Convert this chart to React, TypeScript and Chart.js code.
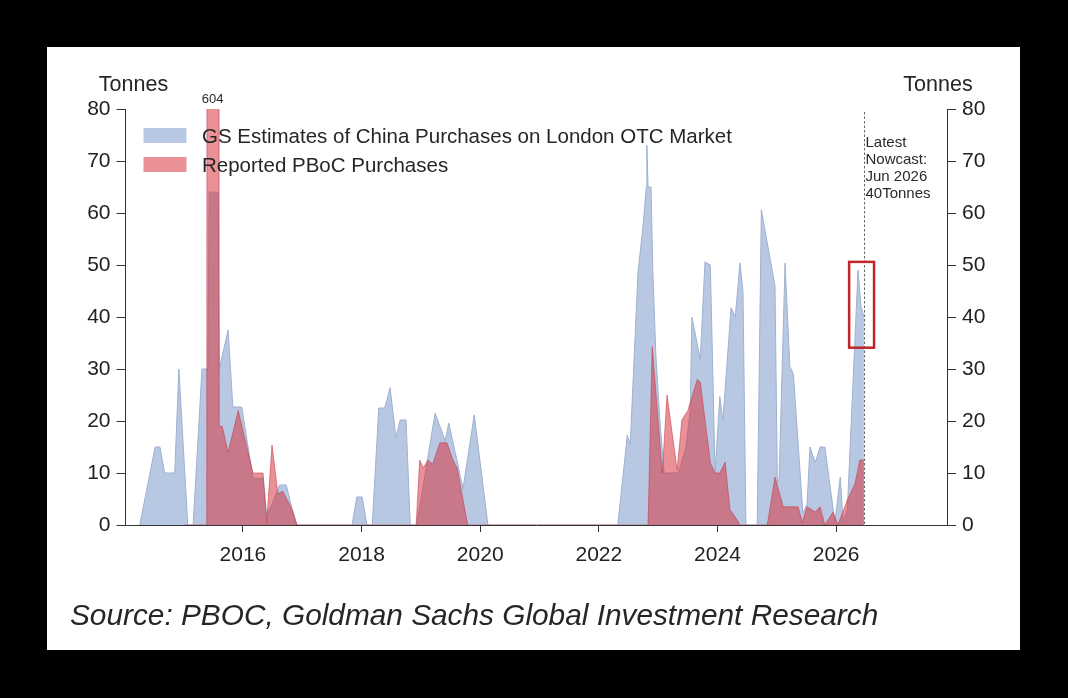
import React, { useEffect, useRef } from 'react';
import { Chart, registerables } from 'chart.js';

Chart.register(...registerables);

const FONT = '"Liberation Sans", Arial, Helvetica, sans-serif';

// GS estimates of China purchases on London OTC market (tonnes), vertices by decimal year
const gsDates = [
  2014.26, 2014.52, 2014.6, 2014.68, 2014.85, 2014.92, 2015.07, 2015.16, 2015.31, 2015.41,
  2015.43, 2015.58, 2015.6, 2015.75, 2015.83, 2015.98, 2016.17, 2016.34, 2016.4, 2016.49,
  2016.62, 2016.73, 2016.83, 2016.91, 2017.84, 2017.92, 2018.01, 2018.09, 2018.18, 2018.29,
  2018.39, 2018.48, 2018.58, 2018.65, 2018.75, 2018.82, 2018.93, 2019.24, 2019.41, 2019.47,
  2019.61, 2019.71, 2019.9, 2020.13, 2022.32, 2022.48, 2022.53, 2022.66, 2022.75, 2022.8,
  2022.81, 2022.83, 2022.88, 2022.91, 2022.96, 2023.03, 2023.1, 2023.34, 2023.47, 2023.54,
  2023.57, 2023.71, 2023.79, 2023.88, 2023.96, 2024.04, 2024.09, 2024.23, 2024.3, 2024.38,
  2024.43, 2024.48, 2024.67, 2024.74, 2024.97, 2025.01, 2025.04, 2025.14, 2025.22, 2025.28,
  2025.44, 2025.51, 2025.56, 2025.65, 2025.73, 2025.81, 2025.93, 2025.98, 2026.07, 2026.12,
  2026.19, 2026.37, 2026.42, 2026.47,
];
const gsValues = [
  0, 15, 15, 10, 10, 30, 0, 0, 30, 30,
  64, 64, 30, 37.5, 22.7, 22.7, 9, 9, 2, 4,
  7.7, 7.7, 3, 0, 0, 5.4, 5.4, 0, 0, 22.5,
  22.5, 26.4, 16.8, 20.2, 20.2, 0, 0, 21.5, 16.2, 19.6,
  12.3, 7, 21.2, 0, 0, 17.3, 15.5, 48.5, 58, 65,
  73, 65, 65, 49, 33, 20, 10, 10, 15, 22,
  40, 31.8, 50.6, 50, 10, 24.7, 20, 41.8, 40, 50.4,
  45, 0, 0, 60.6, 46, 8, 9, 50.4, 30.5, 29,
  2.3, 4, 15, 12, 15, 15, 4.8, 0.5, 9.2, 0.5,
  3, 49, 42, 40,
];

// Reported PBoC purchases (tonnes)
const pbocDates = [
  2015.0, 2015.39, 2015.41, 2015.58, 2015.6, 2015.65, 2015.75, 2015.92, 2016.17, 2016.34,
  2016.4, 2016.49, 2016.59, 2016.67, 2016.83, 2016.91, 2018.92, 2018.98, 2019.04, 2019.12,
  2019.2, 2019.32, 2019.44, 2019.54, 2019.61, 2019.79, 2022.83, 2022.9, 2023.07, 2023.15,
  2023.32, 2023.4, 2023.5, 2023.66, 2023.71, 2023.88, 2023.96, 2024.04, 2024.13, 2024.21,
  2024.33, 2024.38, 2024.84, 2024.97, 2025.11, 2025.36, 2025.43, 2025.51, 2025.65, 2025.73,
  2025.81, 2025.95, 2026.03, 2026.19, 2026.32, 2026.4, 2026.47,
];
const pbocValues = [
  0, 0, 604, 604, 19, 19, 14, 22, 10, 10,
  0.5, 15.4, 6, 6.5, 3, 0, 0, 12.5, 11, 12.5,
  11.7, 15.8, 15.8, 12.5, 11, 0, 0, 34.3, 10, 25,
  10.6, 20.2, 22, 28, 27.5, 12, 10, 10, 12.1, 3,
  1, 0, 0, 9.2, 3.5, 3.5, 0.5, 3.5, 2.5, 3.5,
  0, 2.5, 0, 4.8, 8, 12.5, 12.5,
];

const yearTicks = [2016, 2018, 2020, 2022, 2024, 2026];
const gsLabel = 'GS Estimates of China Purchases on London OTC Market';
const pbocLabel = 'Reported PBoC Purchases';
const axisTitle = 'Tonnes';
const spikeLabel = '604';
const spikeDate = 2015.49;
const nowcastDate = 2026.47;
const nowcastLines = ['Latest', 'Nowcast:', 'Jun 2026', '40Tonnes'];
const boxDates = [2026.22, 2026.64];
const boxValues = [34.1, 50.6];
const sourceText = 'Source: PBOC, Goldman Sachs Global Investment Research';

const GS_FILL = 'rgb(184,200,226)';
const GS_LINE = 'rgb(158,177,208)';
const PBOC_FILL = 'rgba(215,55,65,0.55)';
const PBOC_LINE = 'rgba(195,55,70,0.55)';

const overlayPlugin = {
  id: 'overlay',
  afterDatasetsDraw(chart: any) {
    const { ctx, chartArea, scales } = chart;
    const xs = scales.x;
    const ys = scales.y;
    ctx.save();

    // nowcast dashed line
    const lx = Math.round(xs.getPixelForValue(nowcastDate)) + 0.5;
    ctx.strokeStyle = '#666';
    ctx.lineWidth = 1;
    ctx.setLineDash([2.5, 2]);
    ctx.beginPath();
    ctx.moveTo(lx, chartArea.top + 3);
    ctx.lineTo(lx, chartArea.bottom);
    ctx.stroke();
    ctx.setLineDash([]);

    // highlight box
    const bx0 = xs.getPixelForValue(boxDates[0]);
    const bx1 = xs.getPixelForValue(boxDates[1]);
    const by0 = ys.getPixelForValue(boxValues[1]);
    const by1 = ys.getPixelForValue(boxValues[0]);
    ctx.strokeStyle = '#c0262c';
    ctx.lineWidth = 2.5;
    ctx.strokeRect(bx0, by0, bx1 - bx0, by1 - by0);

    // nowcast text
    ctx.fillStyle = '#2a2a2a';
    ctx.font = `15px ${FONT}`;
    ctx.textAlign = 'left';
    ctx.textBaseline = 'alphabetic';
    nowcastLines.forEach((t, i) => ctx.fillText(t, lx + 1, chartArea.top + 38 + i * 17));

    // spike label
    ctx.font = `13px ${FONT}`;
    ctx.textAlign = 'center';
    ctx.fillText(spikeLabel, xs.getPixelForValue(spikeDate), chartArea.top - 6);

    // legend (GS first, PBoC second)
    const items = [chart.data.datasets[1], chart.data.datasets[0]];
    items.forEach((ds: any, i: number) => {
      const base = chartArea.top + 34 + i * 29;
      ctx.fillStyle = ds.backgroundColor;
      ctx.fillRect(chartArea.left + 18, base - 15, 43, 15);
      ctx.fillStyle = '#262626';
      ctx.font = `20.5px ${FONT}`;
      ctx.textAlign = 'left';
      ctx.textBaseline = 'alphabetic';
      ctx.fillText(ds.label, chartArea.left + 76.5, base);
    });
    ctx.restore();
  },
  afterDraw(chart: any) {
    const { ctx, chartArea } = chart;
    ctx.save();
    ctx.fillStyle = '#262626';
    ctx.font = `21.5px ${FONT}`;
    ctx.textAlign = 'center';
    ctx.textBaseline = 'alphabetic';
    ctx.fillText(axisTitle, chartArea.left + 8, chartArea.top - 18);
    ctx.fillText(axisTitle, chartArea.right - 9, chartArea.top - 18);

    ctx.font = `italic 29.8px ${FONT}`;
    ctx.textAlign = 'left';
    ctx.fillText(sourceText, 70, chartArea.bottom + 100);
    ctx.restore();
  },
};

export default function App() {
  const ref = useRef<HTMLCanvasElement | null>(null);

  useEffect(() => {
    document.body.style.margin = '0';
    document.body.style.background = '#000';
    const canvas = ref.current;
    if (!canvas) return;

    const tickFont = { family: FONT, size: 21 };
    const yAxis = (position: 'left' | 'right') => ({
      type: 'linear' as const,
      position,
      min: 0,
      max: 80,
      ticks: { stepSize: 10, font: tickFont, color: '#222', padding: 6 },
      grid: { drawOnChartArea: false, drawTicks: true, tickLength: 9, color: '#333', lineWidth: 1 },
      border: { display: true, color: '#333', width: 1 },
      afterFit: (scale: any) => {
        scale.width = position === 'left' ? 115.5 : 111;
      },
    });

    const chart = new Chart(canvas, {
      type: 'line',
      data: {
        datasets: [
          {
            label: pbocLabel,
            data: pbocDates.map((d, i) => ({ x: d, y: pbocValues[i] })),
            fill: 'origin',
            backgroundColor: PBOC_FILL,
            borderColor: PBOC_LINE,
            borderWidth: 1,
            pointRadius: 0,
            tension: 0,
            yAxisID: 'y',
          },
          {
            label: gsLabel,
            data: gsDates.map((d, i) => ({ x: d, y: gsValues[i] })),
            fill: 'origin',
            backgroundColor: GS_FILL,
            borderColor: GS_LINE,
            borderWidth: 1,
            pointRadius: 0,
            tension: 0,
            yAxisID: 'y',
          },
        ],
      },
      options: {
        responsive: false,
        animation: false,
        devicePixelRatio: 1,
        layout: { padding: { left: 10, right: 10, top: 109, bottom: 10 } },
        plugins: { legend: { display: false }, tooltip: { enabled: false } },
        scales: {
          x: {
            type: 'linear',
            min: 2014.02,
            max: 2027.87,
            afterBuildTicks: (axis: any) => {
              axis.ticks = yearTicks.map((v) => ({ value: v }));
            },
            afterFit: (scale: any) => {
              scale.height = 163;
            },
            ticks: {
              autoSkip: false,
              maxRotation: 0,
              font: tickFont,
              color: '#222',
              padding: 11,
              callback: (v: any) => String(v),
            },
            grid: { drawOnChartArea: false, drawTicks: true, tickLength: 7, color: '#333' },
            border: { display: true, color: '#333', width: 1 },
          },
          y: yAxis('left'),
          y2: yAxis('right'),
        },
      } as any,
      plugins: [overlayPlugin],
    });
    return () => chart.destroy();
  }, []);

  return (
    <div style={{ position: 'fixed', left: 0, top: 0, width: 1068, height: 698, background: '#000' }}>
      <div style={{ position: 'absolute', left: 47, top: 47, width: 973, height: 603, background: '#fff' }} />
      <canvas
        ref={ref}
        width={1068}
        height={698}
        style={{ position: 'absolute', left: 0, top: 0, width: 1068, height: 698 }}
      />
    </div>
  );
}
